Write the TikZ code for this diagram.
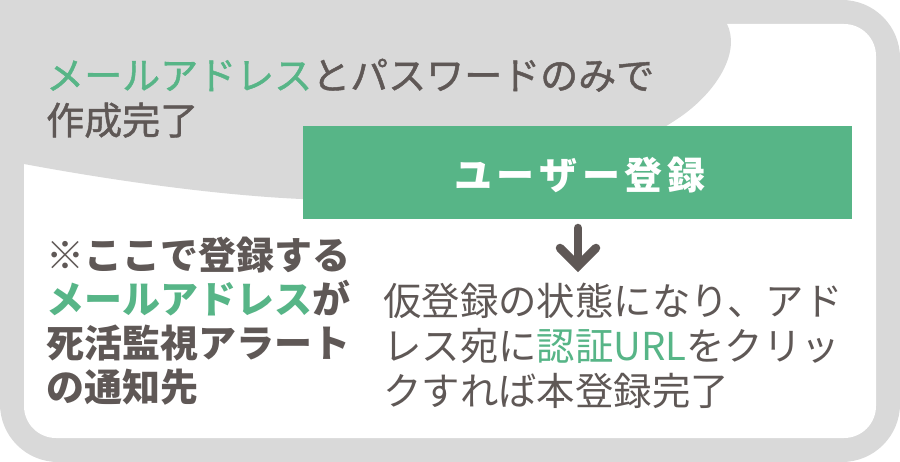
\documentclass[tikz,border=0pt]{standalone}
\usepackage{fontspec}
\newfontfamily\jp{Noto Sans CJK JP}
\newfontfamily\jpmed[FakeBold=1.2]{Noto Sans CJK JP}
\definecolor{bordergray}{HTML}{D9D9D9}
\definecolor{brandgreen}{HTML}{57B587}
\definecolor{textgray}{HTML}{5F5856}
\tikzset{
  txt/.style={anchor=base west, inner sep=0pt, text=textgray, font=\jp\fontsize{38.4pt}{44pt}\selectfont},
  txtmed/.style={txt, font=\jpmed\fontsize{38pt}{44pt}\selectfont},
  txtbold/.style={txt, font=\jp\bfseries\fontsize{38pt}{44pt}\selectfont},
  arrowline/.style={draw=textgray, line width=8.5pt, line cap=round, line join=miter},
}
\begin{document}
\begin{tikzpicture}[x=1pt,y=-1pt]
\fill[white] (0,0) rectangle (900,462);
\useasboundingbox (0,0) rectangle (900,462);
% frame
\fill[bordergray, rounded corners=58pt] (0,0) rectangle (900,462);
\fill[bordergray] (0,0) rectangle (100,100);
\fill[white, rounded corners=32pt] (24,24) rectangle (876,438);
% blob
\fill[bordergray] (20,20) -- (20,164) -- (24,164)
  .. controls (110,180) and (230,198) .. (330,200)
  .. controls (500,198) and (620,160) .. (683,115)
  .. controls (720,88) and (740,50) .. (727,24) -- (727,20) -- cycle;
% top text
\node[txtmed] (t1) at (46,89.5) {\textcolor{brandgreen}{メールアドレス}とパスワードのみで};
\node[txtmed] (t2) at (46,134.5) {作成完了};
% registration box
\node[fill=brandgreen, minimum width=549pt, minimum height=93pt, inner sep=0pt, anchor=north west] (reg) at (303,126) {};
\node[anchor=base, inner sep=0pt, text=white, font=\jp\bfseries\fontsize{38pt}{44pt}\selectfont\addfontfeature{LetterSpace=13}] (regl) at (580,190) {ユーザー登録};
% arrow
\coordinate (atop) at (578,228);
\coordinate (atip) at (578,266);
\coordinate (aleft) at (560,248);
\coordinate (aright) at (596,248);
\draw[arrowline] (atop) -- (atip);
\draw[arrowline] (aleft) -- (atip) -- (aright);
% left note
\node[txtbold] (n1) at (46,269.5) {※ここで登録する};
\node[txtbold] (n2) at (46,313.5) {\textcolor{brandgreen}{メールアドレス}が};
\node[txtbold] (n3) at (46,357.5) {死活監視アラート};
\node[txtbold] (n4) at (46,401.5) {の通知先};
% right text
\node[txt] (r1) at (383,315.5) {仮登録の状態になり、アド};
\node[txt] (r2) at (383,360.5) {レス宛に\textcolor{brandgreen}{認証URL}をクリッ};
\node[txt] (r3) at (383,405.5) {クすれば本登録完了};
\end{tikzpicture}
\end{document}
